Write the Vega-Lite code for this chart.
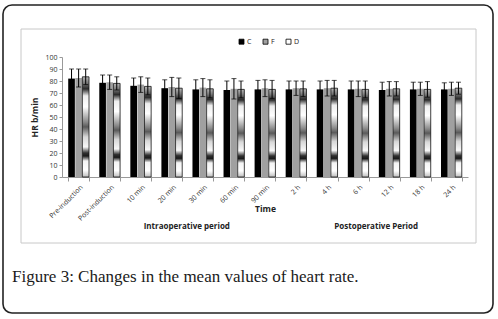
{
  "$schema": "https://vega.github.io/schema/vega-lite/v6.json",
  "width": 406,
  "height": 120,
  "autosize": {"type": "none"},
  "padding": {"left": 62, "top": 57, "right": 30, "bottom": 142},
  "background": "white",
  "config": {"view": {"stroke": null}, "font": "Open Sans"},
  "title": {
    "text": "Figure 3: Changes in the mean values of heart rate.",
    "orient": "bottom",
    "anchor": "start",
    "frame": "group",
    "dx": -50,
    "offset": -45,
    "font": "Liberation Serif",
    "fontSize": 17,
    "fontWeight": "normal",
    "color": "#1a1a1a"
  },
  "layer": [
    {
      "data": {"values": [{}]},
      "layer": [
        {
          "mark": {"type": "rect", "filled": false, "stroke": "#222222", "strokeWidth": 1.6, "cornerRadius": 9},
          "encoding": {
            "x": {"datum": -59, "type": "quantitative", "scale": {"domain": [0, 406]}, "axis": null},
            "x2": {"datum": 431},
            "y": {"datum": -52, "type": "quantitative", "scale": {"domain": [0, 120], "reverse": true}, "axis": null},
            "y2": {"datum": 256}
          }
        },
        {
          "mark": {"type": "rect", "filled": false, "stroke": "#c8c8c8", "strokeWidth": 1},
          "encoding": {
            "x": {"datum": -41, "type": "quantitative", "scale": {"domain": [0, 406]}, "axis": null},
            "x2": {"datum": 414},
            "y": {"datum": -28, "type": "quantitative", "scale": {"domain": [0, 120], "reverse": true}, "axis": null},
            "y2": {"datum": 186}
          }
        }
      ]
    },
    {
      "data": {
        "values": [
          {"time": "Pre-induction", "group": "C", "mean": 82, "sd": 8},
          {"time": "Pre-induction", "group": "F", "mean": 82.5, "sd": 7.5},
          {"time": "Pre-induction", "group": "D", "mean": 83.5, "sd": 6.5},
          {"time": "Post-induction", "group": "C", "mean": 78.5, "sd": 6.5},
          {"time": "Post-induction", "group": "F", "mean": 79, "sd": 6},
          {"time": "Post-induction", "group": "D", "mean": 78, "sd": 5.5},
          {"time": "10 min", "group": "C", "mean": 76, "sd": 6.5},
          {"time": "10 min", "group": "F", "mean": 77, "sd": 6.5},
          {"time": "10 min", "group": "D", "mean": 75.5, "sd": 7},
          {"time": "20 min", "group": "C", "mean": 74, "sd": 7},
          {"time": "20 min", "group": "F", "mean": 75, "sd": 8},
          {"time": "20 min", "group": "D", "mean": 74, "sd": 8.5},
          {"time": "30 min", "group": "C", "mean": 73, "sd": 8},
          {"time": "30 min", "group": "F", "mean": 74.5, "sd": 7.5},
          {"time": "30 min", "group": "D", "mean": 73.5, "sd": 7.5},
          {"time": "60 min", "group": "C", "mean": 72.5, "sd": 7.5},
          {"time": "60 min", "group": "F", "mean": 73.5, "sd": 8.5},
          {"time": "60 min", "group": "D", "mean": 73, "sd": 7},
          {"time": "90 min", "group": "C", "mean": 73, "sd": 7.5},
          {"time": "90 min", "group": "F", "mean": 74, "sd": 7},
          {"time": "90 min", "group": "D", "mean": 73, "sd": 7.5},
          {"time": "2 h", "group": "C", "mean": 73, "sd": 7},
          {"time": "2 h", "group": "F", "mean": 74, "sd": 6},
          {"time": "2 h", "group": "D", "mean": 73.5, "sd": 6.5},
          {"time": "4 h", "group": "C", "mean": 73, "sd": 7},
          {"time": "4 h", "group": "F", "mean": 74, "sd": 6.5},
          {"time": "4 h", "group": "D", "mean": 74, "sd": 6.5},
          {"time": "6 h", "group": "C", "mean": 73, "sd": 7},
          {"time": "6 h", "group": "F", "mean": 73.5, "sd": 6.5},
          {"time": "6 h", "group": "D", "mean": 73, "sd": 7},
          {"time": "12 h", "group": "C", "mean": 72.5, "sd": 6.5},
          {"time": "12 h", "group": "F", "mean": 73.5, "sd": 6},
          {"time": "12 h", "group": "D", "mean": 73.5, "sd": 6},
          {"time": "18 h", "group": "C", "mean": 73, "sd": 6},
          {"time": "18 h", "group": "F", "mean": 73.5, "sd": 5.5},
          {"time": "18 h", "group": "D", "mean": 73, "sd": 6.5},
          {"time": "24 h", "group": "C", "mean": 73, "sd": 5.5},
          {"time": "24 h", "group": "F", "mean": 73.5, "sd": 5.5},
          {"time": "24 h", "group": "D", "mean": 74, "sd": 5}
        ]
      },
      "layer": [
        {
          "encoding": {
            "x": {
              "field": "time",
              "type": "nominal",
              "sort": null,
              "scale": {
                "domain": ["Pre-induction", "Post-induction", "10 min", "20 min", "30 min", "60 min", "90 min", "2 h", "4 h", "6 h", "12 h", "18 h", "24 h"],
                "paddingInner": 0.33,
                "paddingOuter": 0.2
              },
              "axis": {
                "orient": "bottom",
                "title": "Time",
                "titleFontSize": 8.5,
                "titleFontWeight": "bold",
                "titleColor": "#222222",
                "titleY": 27,
                "labelAngle": -45,
                "labelFontSize": 7,
                "labelColor": "#333333",
                "labelPadding": 2,
                "tickBand": "extent",
                "tickSize": 4,
                "tickColor": "#999999",
                "domainColor": "#999999",
                "grid": false
              }
            },
            "xOffset": {"field": "group", "type": "nominal", "scale": {"domain": ["C", "F", "D"], "paddingInner": 0.06}},
            "y": {
              "field": "mean",
              "type": "quantitative",
              "scale": {"domain": [0, 100], "nice": false},
              "axis": {
                "orient": "left",
                "values": [0, 10, 20, 30, 40, 50, 60, 70, 80, 90, 100],
                "title": "HR b/min",
                "titleFontSize": 8.5,
                "titleFontWeight": "bold",
                "titleColor": "#222222",
                "titlePadding": 5,
                "labelFontSize": 7,
                "labelColor": "#333333",
                "labelPadding": 2,
                "tickSize": 3,
                "tickColor": "#999999",
                "domainColor": "#999999",
                "gridColor": "#b8b8b8"
              }
            }
          },
          "layer": [
            {
              "transform": [{"filter": "datum.group !== 'D'"}],
              "mark": {"type": "bar"},
              "encoding": {
                "fill": {
                  "field": "group",
                  "type": "nominal",
                  "scale": {"domain": ["C", "F", "D"], "range": ["#000000", "#a0a0a0", "#ffffff"]},
                  "legend": {
                    "orient": "none",
                    "legendX": 176,
                    "legendY": -19,
                    "direction": "horizontal",
                    "title": null,
                    "symbolType": "square",
                    "symbolSize": 25,
                    "symbolStrokeColor": "#000000",
                    "symbolStrokeWidth": 0.8,
                    "labelFontSize": 7,
                    "labelColor": "#222222",
                    "labelOffset": 2,
                    "columnPadding": 9
                  }
                }
              }
            },
            {
              "transform": [{"filter": "datum.group === 'D'"}],
              "mark": {
                "type": "bar",
                "stroke": "#111111",
                "strokeWidth": 0.8,
                "fill": {
                  "gradient": "linear",
                  "x1": 0, "y1": 0, "x2": 0, "y2": 1,
                  "stops": [
                    {"offset": 0, "color": "#b8b8b8"},
                    {"offset": 0.06, "color": "#7a7a7a"},
                    {"offset": 0.12, "color": "#2a2a2a"},
                    {"offset": 0.19, "color": "#eeeeee"},
                    {"offset": 0.3, "color": "#ffffff"},
                    {"offset": 0.45, "color": "#8a8a8a"},
                    {"offset": 0.5, "color": "#5a5a5a"},
                    {"offset": 0.6, "color": "#d8d8d8"},
                    {"offset": 0.7, "color": "#f8f8f8"},
                    {"offset": 0.76, "color": "#303030"},
                    {"offset": 0.79, "color": "#1a1a1a"},
                    {"offset": 0.84, "color": "#f4f4f4"},
                    {"offset": 0.93, "color": "#ffffff"},
                    {"offset": 1, "color": "#bdbdbd"}
                  ]
                }
              }
            },
            {
              "mark": {"type": "errorbar", "ticks": {"size": 5, "color": "#000000"}, "color": "#000000", "thickness": 1},
              "encoding": {
                "yError": {"field": "sd"}
              }
            }
          ]
        },
        {
          "data": {"values": [{}]},
          "mark": {"type": "text", "fontSize": 8, "fontWeight": "bold", "color": "#222222", "dx": 15, "text": "Intraoperative period"},
          "encoding": {
            "x": {"datum": "20 min", "type": "nominal"},
            "y": {
              "datum": -41.7,
              "type": "quantitative",
              "axis": {
                "orient": "left",
                "values": [0, 10, 20, 30, 40, 50, 60, 70, 80, 90, 100],
                "title": "HR b/min",
                "titleFontSize": 8.5,
                "titleFontWeight": "bold",
                "titleColor": "#222222",
                "titlePadding": 5,
                "labelFontSize": 7,
                "labelColor": "#333333",
                "labelPadding": 2,
                "tickSize": 3,
                "tickColor": "#999999",
                "domainColor": "#999999",
                "gridColor": "#b8b8b8"
              }
            }
          }
        },
        {
          "data": {"values": [{}]},
          "mark": {"type": "text", "fontSize": 8, "fontWeight": "bold", "color": "#222222", "dx": 18, "text": "Postoperative Period"},
          "encoding": {
            "x": {"datum": "6 h", "type": "nominal"},
            "y": {
              "datum": -41.7,
              "type": "quantitative",
              "axis": {
                "orient": "left",
                "values": [0, 10, 20, 30, 40, 50, 60, 70, 80, 90, 100],
                "title": "HR b/min",
                "titleFontSize": 8.5,
                "titleFontWeight": "bold",
                "titleColor": "#222222",
                "titlePadding": 5,
                "labelFontSize": 7,
                "labelColor": "#333333",
                "labelPadding": 2,
                "tickSize": 3,
                "tickColor": "#999999",
                "domainColor": "#999999",
                "gridColor": "#b8b8b8"
              }
            }
          }
        }
      ]
    }
  ],
  "resolve": {"scale": {"x": "independent", "y": "independent"}}
}
